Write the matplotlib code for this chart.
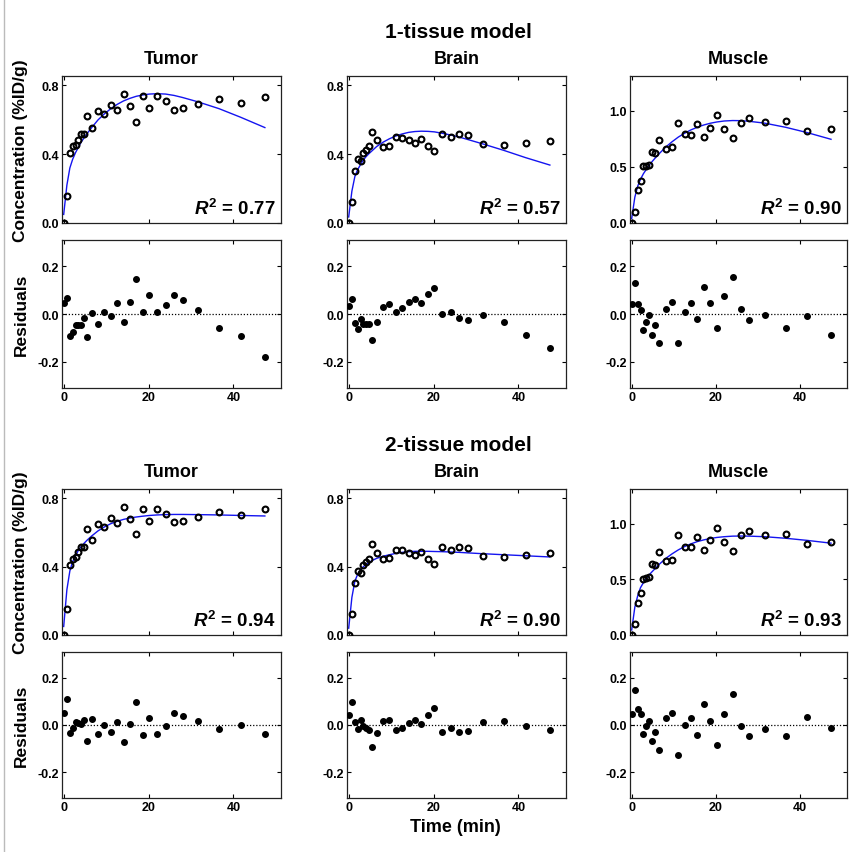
import numpy as np
import matplotlib.pyplot as plt
from matplotlib.lines import Line2D

plt.rcParams['font.family'] = ['Liberation Sans', 'DejaVu Sans']
plt.rcParams['font.weight'] = 'bold'
plt.rcParams['mathtext.fontset'] = 'custom'
plt.rcParams['mathtext.rm'] = 'Liberation Sans:bold'
plt.rcParams['mathtext.it'] = 'Liberation Sans:italic:bold'

# frame times (min), shared by all panels
time = [0, 0.75, 1.45, 2.1, 2.8, 3.45, 4.1, 4.8, 5.5, 6.6, 8.1, 9.6, 11.1, 12.6,
        14.1, 15.6, 17.1, 18.7, 20.2, 22.0, 24.0, 26.0, 28.0, 31.6, 36.6, 41.7, 47.4]

# measured concentrations (%ID/g)
tumor = [0.0, 0.155, 0.41, 0.445, 0.455, 0.485, 0.515, 0.515, 0.62, 0.555, 0.65, 0.635, 0.685, 0.655,
         0.75, 0.68, 0.59, 0.74, 0.67, 0.74, 0.71, 0.66, 0.67, 0.69, 0.72, 0.70, 0.735]
brain = [0.0, 0.124, 0.305, 0.373, 0.361, 0.41, 0.425, 0.447, 0.532, 0.482, 0.443, 0.45, 0.50, 0.497,
         0.48, 0.468, 0.487, 0.445, 0.417, 0.518, 0.50, 0.515, 0.509, 0.462, 0.454, 0.468, 0.478]
muscle = [0.0, 0.10, 0.29, 0.375, 0.505, 0.51, 0.52, 0.636, 0.624, 0.743, 0.66, 0.675, 0.893, 0.794,
          0.788, 0.88, 0.764, 0.848, 0.961, 0.836, 0.758, 0.893, 0.934, 0.90, 0.91, 0.818, 0.836]

# 1-tissue model fits and residuals
tumor_fit_1t = [0.05, 0.22, 0.32, 0.37, 0.41, 0.44, 0.47, 0.495, 0.52, 0.555, 0.60, 0.635, 0.665, 0.69,
                0.71, 0.725, 0.737, 0.745, 0.75, 0.752, 0.75, 0.742, 0.73, 0.705, 0.665, 0.615, 0.555]
brain_fit_1t = [0.035, 0.185, 0.27, 0.31, 0.34, 0.367, 0.386, 0.404, 0.42, 0.445, 0.47, 0.49, 0.506, 0.518,
                0.527, 0.532, 0.534, 0.533, 0.53, 0.522, 0.512, 0.50, 0.486, 0.46, 0.422, 0.38, 0.337]
muscle_fit_1t = [0.04, 0.23, 0.33, 0.39, 0.44, 0.476, 0.512, 0.545, 0.575, 0.62, 0.677, 0.724, 0.766, 0.80,
                 0.83, 0.853, 0.873, 0.889, 0.90, 0.909, 0.913, 0.912, 0.906, 0.89, 0.853, 0.806, 0.746]
tumor_res_1t = [0.046, 0.067, -0.094, -0.076, -0.048, -0.045, -0.045, -0.017, -0.097, 0.004, -0.042, 0.008,
                -0.007, 0.045, -0.034, 0.05, 0.147, 0.007, 0.081, 0.01, 0.038, 0.081, 0.057, 0.015,
                -0.06, -0.091, -0.18]
brain_res_1t = [0.034, 0.062, -0.036, -0.063, -0.021, -0.042, -0.041, -0.041, -0.11, -0.035, 0.028, 0.043,
                0.008, 0.024, 0.05, 0.064, 0.046, 0.084, 0.11, 0.001, 0.01, -0.015, -0.025, -0.004,
                -0.034, -0.088, -0.141]
muscle_res_1t = [0.041, 0.129, 0.04, 0.017, -0.066, -0.034, -0.006, -0.089, -0.047, -0.12, 0.02, 0.051,
                 -0.123, 0.009, 0.046, -0.023, 0.113, 0.046, -0.059, 0.074, 0.157, 0.019, -0.026, -0.006,
                 -0.057, -0.009, -0.09]
r2_1t = [0.77, 0.57, 0.90]

# 2-tissue model fits and residuals
tumor_fit_2t = [0.05, 0.265, 0.375, 0.43, 0.465, 0.495, 0.518, 0.537, 0.555, 0.58, 0.61, 0.633, 0.652, 0.666,
                0.677, 0.685, 0.691, 0.696, 0.70, 0.703, 0.705, 0.706, 0.706, 0.705, 0.703, 0.70, 0.697]
brain_fit_2t = [0.04, 0.22, 0.315, 0.355, 0.38, 0.40, 0.413, 0.425, 0.436, 0.449, 0.461, 0.47, 0.478, 0.484,
                0.488, 0.49, 0.49, 0.49, 0.489, 0.488, 0.486, 0.484, 0.481, 0.476, 0.47, 0.464, 0.457]
muscle_fit_2t = [0.045, 0.25, 0.355, 0.425, 0.47, 0.505, 0.537, 0.566, 0.593, 0.636, 0.687, 0.728, 0.764, 0.794,
                 0.818, 0.838, 0.853, 0.866, 0.875, 0.882, 0.887, 0.888, 0.887, 0.882, 0.868, 0.849, 0.824]
tumor_res_2t = [0.05, 0.11, -0.033, -0.013, 0.011, 0.01, 0.003, 0.021, -0.066, 0.026, -0.039, -0.001,
                -0.03, 0.013, -0.071, 0.006, 0.099, -0.044, 0.031, -0.037, -0.003, 0.049, 0.037, 0.019,
                -0.016, 0.0, -0.037]
brain_res_2t = [0.041, 0.098, 0.013, -0.016, 0.021, -0.006, -0.011, -0.02, -0.094, -0.033, 0.018, 0.021,
                -0.021, -0.011, 0.01, 0.023, 0.004, 0.044, 0.074, -0.028, -0.014, -0.03, -0.027, 0.013,
                0.017, -0.004, -0.021]
muscle_res_2t = [0.045, 0.15, 0.068, 0.045, -0.037, -0.006, 0.017, -0.068, -0.029, -0.105, 0.029, 0.053,
                 -0.127, 0.0, 0.03, -0.042, 0.089, 0.019, -0.086, 0.047, 0.131, -0.006, -0.046, -0.016,
                 -0.046, 0.032, -0.012]
r2_2t = [0.94, 0.90, 0.93]

tissues = ['Tumor', 'Brain', 'Muscle']
models = ['1-tissue model', '2-tissue model']
data = [tumor, brain, muscle]
fits = [[tumor_fit_1t, brain_fit_1t, muscle_fit_1t], [tumor_fit_2t, brain_fit_2t, muscle_fit_2t]]
resids = [[tumor_res_1t, brain_res_1t, muscle_res_1t], [tumor_res_2t, brain_res_2t, muscle_res_2t]]
r2s = [r2_1t, r2_2t]
conc_ylim = [0.855, 0.855, 1.31]
conc_ticks = [[0, 0.4, 0.8], [0, 0.4, 0.8], [0, 0.5, 1.0]]

W, H = 855, 853
fig = plt.figure(figsize=(W / 100, H / 100), dpi=100)


def box(l, r, t, b):
    return [l / W, 1 - b / H, (r - l) / W, (b - t) / H]


cols = [(62, 281), (347, 566), (630, 847)]
conc_rows = [(77, 224), (490, 636)]
res_rows = [(241, 389), (653, 799)]
model_y = [33, 446]
tissue_y = [60, 473]


def style(ax):
    ax.tick_params(direction='in', top=True, right=True, length=3, width=0.8,
                   labelsize=9, pad=2)
    for s in ax.spines.values():
        s.set_linewidth(0.9)
        s.set_color('#222222')
    for lab in ax.get_xticklabels() + ax.get_yticklabels():
        lab.set_fontweight('bold')


for m in range(2):
    fig.text(458 / W, 1 - model_y[m] / H, models[m], ha='center', va='center',
             fontsize=15, fontweight='bold')
    ct, cb = conc_rows[m]
    rt, rb = res_rows[m]
    fig.text(21 / W, 1 - (ct + cb) / 2 / H, 'Concentration (%ID/g)', rotation=90,
             ha='center', va='center', fontsize=12.5, fontweight='bold')
    fig.text(21 / W, 1 - (rt + rb) / 2 / H, 'Residuals', rotation=90,
             ha='center', va='center', fontsize=12.5, fontweight='bold')
    for k in range(3):
        l, r = cols[k]
        fig.text((l + r) / 2 / W, 1 - tissue_y[m] / H, tissues[k], ha='center', va='center',
                 fontsize=13, fontweight='bold')

        ax = fig.add_axes(box(l, r, ct, cb))
        ax.plot(time, fits[m][k], color='#1414f0', lw=1.0, zorder=2)
        ax.plot(time, data[k], 'o', mfc='none', mec='black', mew=1.5, ms=4.2, zorder=3)
        ax.set_xlim(-0.4, 51.2)
        ax.set_ylim(0, conc_ylim[k])
        ax.set_xticks([0, 20, 40])
        ax.set_xticklabels([])
        ax.set_yticks(conc_ticks[k])
        ax.set_yticklabels(['%.1f' % v for v in conc_ticks[k]])
        ax.text(0.975, 0.035, r'$R^2$ = %.2f' % r2s[m][k], transform=ax.transAxes,
                ha='right', va='bottom', fontsize=13.5, fontweight='bold')
        style(ax)

        ax2 = fig.add_axes(box(l, r, rt, rb))
        ax2.axhline(0, color='black', lw=0.9, ls=(0, (1, 1.5)), zorder=1)
        ax2.plot(time, resids[m][k], 'o', color='black', ms=4.0, zorder=3)
        ax2.set_xlim(-0.4, 51.2)
        ax2.set_ylim(-0.31, 0.31)
        ax2.set_xticks([0, 20, 40])
        ax2.set_yticks([-0.2, 0.0, 0.2])
        ax2.set_yticklabels(['-0.2', '0.0', '0.2'])
        style(ax2)

fig.text(455 / W, 1 - 828 / H, 'Time (min)', ha='center', va='center',
         fontsize=13, fontweight='bold')

# thin frame line at the left edge, as in the source page
fig.add_artist(Line2D([4 / W, 4 / W], [0, 1], color='#bbbbbb', lw=1.0))

fig.savefig('out.png', dpi=100)
